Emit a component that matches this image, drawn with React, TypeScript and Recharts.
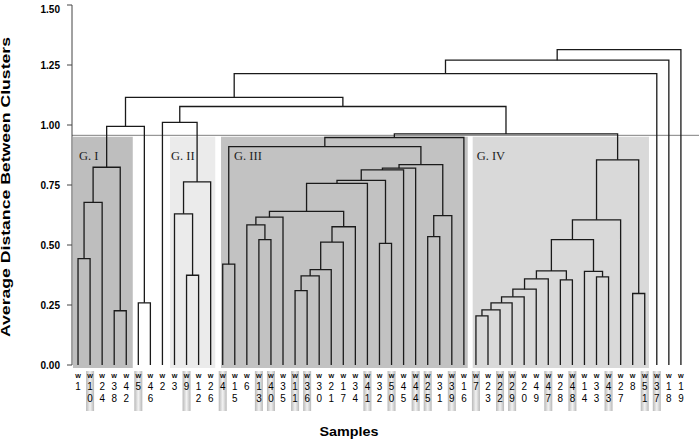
import React from "react";
import {
  ComposedChart,
  Line,
  XAxis,
  YAxis,
  ReferenceArea,
  ReferenceLine,
} from "recharts";

// leaf order, left to right
const LEAVES = [
  "W1", "W10", "W24", "W38", "W42", "W5", "W46", "W2", "W3", "W9", "W12", "W26",
  "W4", "W15", "W6", "W13", "W40", "W35", "W11", "W36", "W30", "W21", "W17", "W34",
  "W41", "W32", "W50", "W45", "W44", "W25", "W31", "W39", "W16", "W7", "W23", "W22",
  "W29", "W20", "W49", "W47", "W28", "W48", "W14", "W33", "W43", "W27", "W8", "W51",
  "W37", "W18", "W19",
];

// labels drawn on a grey tab
const HIGHLIGHTED = [
  "W10", "W5", "W9", "W4", "W13", "W40", "W11", "W36", "W41", "W50", "W44", "W25",
  "W39", "W7", "W22", "W29", "W47", "W48", "W43", "W51", "W37",
];

// merges: [left, right, height]; a number points at an earlier merge
const MERGES: [string | number, string | number, number][] = [
  ["W1", "W10", 0.443],
  [0, "W24", 0.678],
  ["W38", "W42", 0.226],
  [1, 2, 0.824],
  ["W5", "W46", 0.259],
  [3, 4, 0.994],
  ["W9", "W12", 0.374],
  ["W3", 6, 0.63],
  [7, "W26", 0.763],
  ["W2", 8, 1.011],
  ["W11", "W36", 0.31],
  [10, "W30", 0.371],
  [11, "W21", 0.397],
  [12, "W17", 0.512],
  [13, "W34", 0.576],
  ["W13", "W40", 0.522],
  ["W6", 15, 0.584],
  [16, "W35", 0.616],
  [17, 14, 0.64],
  [18, "W41", 0.757],
  ["W32", "W50", 0.507],
  [19, 20, 0.769],
  [21, "W45", 0.813],
  [22, "W44", 0.82],
  ["W25", "W31", 0.535],
  [24, "W39", 0.622],
  [23, 25, 0.835],
  ["W4", "W15", 0.42],
  [27, 26, 0.91],
  [28, "W16", 0.948],
  ["W7", "W23", 0.205],
  [30, "W22", 0.23],
  [31, "W29", 0.259],
  [32, "W20", 0.284],
  [33, "W49", 0.316],
  [34, "W47", 0.359],
  ["W28", "W48", 0.355],
  [35, 36, 0.392],
  ["W33", "W43", 0.367],
  ["W14", 38, 0.39],
  [37, 39, 0.522],
  [40, "W27", 0.605],
  ["W8", "W51", 0.298],
  [41, 42, 0.855],
  [29, 43, 0.963],
  [9, 44, 1.077],
  [5, 45, 1.115],
  [46, "W37", 1.214],
  [47, "W18", 1.27],
  [48, "W19", 1.314],
];

// shaded groups, in leaf-index units
const GROUP_NAMES = ["G. I", "G. II", "G. III", "G. IV"];
const GROUP_FROM = [-0.42, 7.63, 11.86, 32.73];
const GROUP_TO = [4.54, 11.38, 32.32, 47.35];
const GROUP_TOP = 0.951;
const GROUP_FILL = ["#bebebe", "#ebebeb", "#c2c2c2", "#d9d9d9"];
const GROUP_DX = [6, 1, 13, 4];

const CUT = 0.957;
const Y_TICKS = [0, 0.25, 0.5, 0.75, 1, 1.25, 1.5];

const leafIdx = new Map(LEAVES.map((l, i) => [l, i]));
const nodeX: number[] = [];
const nodeH: number[] = [];
const links = MERGES.map(([a, b, h], k) => {
  const pos = (r: string | number) =>
    typeof r === "string"
      ? { x: leafIdx.get(r) as number, h: 0 }
      : { x: nodeX[r], h: nodeH[r] };
  const pa = pos(a);
  const pb = pos(b);
  nodeX[k] = (pa.x + pb.x) / 2;
  nodeH[k] = h;
  return [
    { x: pa.x, y: pa.h },
    { x: pa.x, y: h },
    { x: pb.x, y: h },
    { x: pb.x, y: pb.h },
  ];
});

const SANS = "Arial, 'Liberation Sans', sans-serif";

const LeafTick = (props: any) => {
  const { x, y, payload } = props;
  const name = LEAVES[payload.value];
  const digits = name.slice(1).split("");
  const hl = HIGHLIGHTED.includes(name);
  return (
    <g>
      {hl && (
        <rect x={x - 4} y={y + 6} width={8} height={40} fill="url(#tab)" />
      )}
      <text x={x} y={y + 12.5} textAnchor="middle" fontSize={6} fontWeight="bold" fontFamily={SANS} fill="#000">
        W
      </text>
      {digits.map((d: string, i: number) => (
        <text
          key={i}
          x={x}
          y={y + 24.5 + i * 12.3}
          textAnchor="middle"
          fontSize={11}
          fontFamily={SANS}
          fill="#000"
          textLength={5.5}
          lengthAdjust="spacingAndGlyphs"
        >
          {d}
        </text>
      ))}
    </g>
  );
};

const YTick = (props: any) => {
  const { x, y, payload } = props;
  return (
    <text x={x} y={y + 3.5} textAnchor="end" fontSize={10} fontWeight="bold" fontFamily={SANS} fill="#000">
      {Number(payload.value).toFixed(2)}
    </text>
  );
};

export default function App() {
  return (
    <div style={{ position: "absolute", left: 0, top: 0, background: "#fff" }}>
      <ComposedChart width={699} height={441} margin={{ top: 5, right: 0, bottom: 0, left: 0 }}>
        <defs>
          <linearGradient id="tab" x1="0" y1="0" x2="1" y2="0">
            <stop offset="0%" stopColor="#b8b8b8" />
            <stop offset="50%" stopColor="#f2f2f2" />
            <stop offset="100%" stopColor="#b8b8b8" />
          </linearGradient>
        </defs>
        <XAxis
          type="number"
          dataKey="x"
          domain={[-0.5, 51.5]}
          ticks={LEAVES.map((_, i) => i)}
          interval={0}
          axisLine={false}
          tickLine={false}
          tickSize={0}
          tickMargin={0}
          height={76}
          tick={<LeafTick />}
          allowDataOverflow
          label={{
            content: () => (
              <text x={349} y={436} textAnchor="middle" fontSize={13} fontWeight="bold" fontFamily={SANS} textLength={59} lengthAdjust="spacingAndGlyphs">
                Samples
              </text>
            ),
          }}
        />
        <YAxis
          type="number"
          domain={[0, 1.5]}
          ticks={Y_TICKS}
          width={72}
          tickSize={5}
          tickMargin={7}
          stroke="#444"
          tick={<YTick />}
          allowDataOverflow
          label={{
            content: (p: any) => {
              const cx = 10;
              const cy = p.viewBox.y + p.viewBox.height / 2 + 2;
              return (
                <text
                  x={cx}
                  y={cy}
                  transform={`rotate(-90 ${cx} ${cy})`}
                  textAnchor="middle"
                  fontSize={12}
                  fontWeight="bold"
                  fontFamily={SANS}
                  textLength={300}
                  lengthAdjust="spacingAndGlyphs"
                >
                  Average Distance Between Clusters
                </text>
              );
            },
          }}
        />
        {GROUP_NAMES.map((g, i) => (
          <ReferenceArea
            key={g}
            x1={GROUP_FROM[i]}
            x2={GROUP_TO[i]}
            y1={-0.013}
            y2={GROUP_TOP}
            fill={GROUP_FILL[i]}
            fillOpacity={1}
            stroke="none"
            ifOverflow="visible"
            label={{
              content: (p: any) => (
                <text
                  x={p.viewBox.x + GROUP_DX[i]}
                  y={p.viewBox.y + 23}
                  fontSize={12.5}
                  fontFamily="'Liberation Serif', 'Times New Roman', serif"
                  fill="#222"
                >
                  {g}
                </text>
              ),
            }}
          />
        ))}
        <ReferenceLine y={CUT} stroke="#808080" strokeWidth={1} />
        {links.map((pts, i) => (
          <Line
            key={i}
            data={pts}
            dataKey="y"
            type="linear"
            stroke="#1a1a1a"
            strokeWidth={1.3}
            dot={false}
            activeDot={false}
            isAnimationActive={false}
            legendType="none"
          />
        ))}
      </ComposedChart>
    </div>
  );
}
